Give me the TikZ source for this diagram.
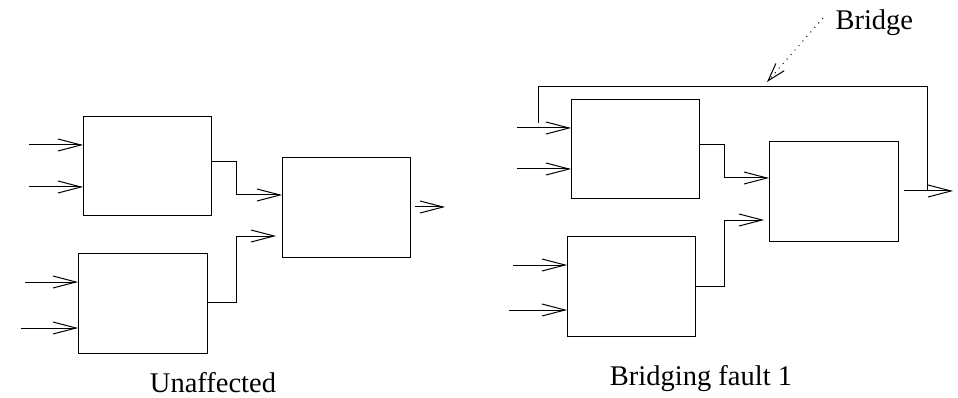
\documentclass[tikz,border=0pt]{standalone}
\usepackage{fontspec}
\setmainfont{Liberation Serif}
\usetikzlibrary{arrows.meta,calc}
\begin{document}
\begin{tikzpicture}[x=1pt,y=-1pt,
  line width=1pt,
  blk/.style={draw, rectangle, inner sep=0pt, anchor=north west,
              minimum width=#1, minimum height=99.5pt},
  blk/.default=128pt,
  arr/.style={-{Straight Barb[length=23pt,width=12pt,line width=1pt]}},
  wire/.style={line join=miter},
  lbl/.style={font=\fontsize{28.5}{34}\selectfont, inner sep=0pt}]
\useasboundingbox (0,0) rectangle (958,398);

% ---------- left circuit: fault-free ----------
\node[blk] (A) at (83,116) {};
\node[blk=129pt] (B) at (78,253) {};
\node[blk] (C) at (282,157) {};

\coordinate (a1) at (29,145);
\coordinate (a2) at (29,187);
\coordinate (b1) at (25,282);
\coordinate (b2) at (21,328);
\draw[arr] (a1) -- (a1 -| A.west);
\draw[arr] (a2) -- (a2 -| A.west);
\draw[arr] (b1) -- (b1 -| B.west);
\draw[arr] (b2) -- (b2 -| B.west);

\coordinate (ja) at (236,195);
\coordinate (jb) at (236,236);
\draw[arr, wire] ($(A.north east)+(0,46)$) -| (ja) -- (ja -| C.west);
\draw[arr, wire, shorten >=6pt] ($(B.north east)+(0,49)$) -| (jb) -- (jb -| C.west);
\coordinate (co) at (445,207);
\draw[arr] (co -| C.east) ++(4,0) -- (co);

\node[lbl, anchor=base] (t1) at (213,392) {Unaffected};

% ---------- right circuit: bridging fault ----------
\node[blk] (D) at (571,99) {};
\node[blk=129pt] (E) at (769,141) {};
\node[blk] (F) at (567,236) {};

\coordinate (d1) at (517,128);
\coordinate (d2) at (517,169);
\coordinate (f1) at (513,265);
\coordinate (f2) at (509,310);
\draw[arr] (d1) -- (d1 -| D.west);
\draw[arr] (d2) -- (d2 -| D.west);
\draw[arr] (f1) -- (f1 -| F.west);
\draw[arr] (f2) -- (f2 -| F.west);

\coordinate (jd) at (724,178);
\coordinate (jf) at (724,220);
\draw[arr, wire] ($(D.north east)+(0,46)$) -| (jd) -- (jd -| E.west);
\draw[arr, wire, shorten >=5pt] ($(F.north east)+(0,50)$) -| (jf) -- (jf -| E.west);
\coordinate (eo) at (953,191);
\draw[arr] (eo -| E.east) ++(5,0) -- (eo);

% bridge wire from the first input of D to the output of E
\coordinate (bs) at (538,123);
\coordinate (bt) at (927,191);
\draw[wire] (bs) -- (538,87) -| (bt);

% bridge marker
\node[lbl, anchor=base west] (bl) at (835,30) {Bridge};
\coordinate (bp) at (823,18);
\coordinate (bq) at (767,82);
\draw[-{Straight Barb[length=18pt,width=11pt,line width=1pt]},
      line width=1pt, dash pattern=on 1pt off 5pt] (bp) -- (bq);

\node[lbl, anchor=base] (t2) at (701,385) {Bridging fault 1};
\end{tikzpicture}
\end{document}
